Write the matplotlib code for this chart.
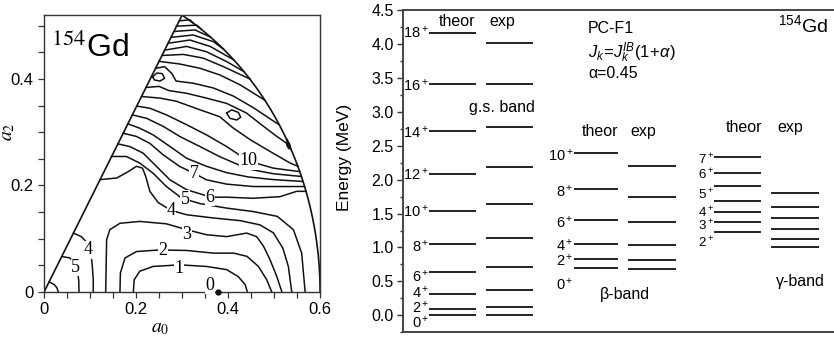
import numpy as np
import matplotlib.pyplot as plt
from matplotlib.ticker import MultipleLocator, FixedLocator

plt.rcParams['font.family'] = ['Liberation Sans', 'DejaVu Sans']
plt.rcParams['mathtext.fontset'] = 'custom'
plt.rcParams['mathtext.rm'] = 'Liberation Sans'
plt.rcParams['mathtext.it'] = 'Liberation Sans:italic'
plt.rcParams['mathtext.bf'] = 'Liberation Sans:bold'

# ---------------- left panel: PES contour lines, (a0, a2) points
c6_origin = [(0.011, 0.019), (0.022, 0.014), (0.028, 0.008), (0.031, 0.0)]
c5_origin = [(0.0385, 0.0667), (0.056, 0.064), (0.067, 0.054), (0.073, 0.039), (0.0755, 0.020), (0.076, 0.0)]
c4_origin = [(0.064, 0.1106), (0.081, 0.104), (0.094, 0.092), (0.102, 0.073), (0.105, 0.048), (0.107, 0.023), (0.107, 0.0)]
c1 = [(0.194, 0.0), (0.196, 0.023), (0.208, 0.039), (0.237, 0.048), (0.295, 0.051), (0.353, 0.048),
      (0.397, 0.042), (0.422, 0.029), (0.437, 0.014), (0.442, 0.0)]
c2 = [(0.165, 0.0), (0.166, 0.036), (0.176, 0.064), (0.201, 0.076), (0.252, 0.079), (0.310, 0.078),
      (0.368, 0.073), (0.412, 0.073), (0.441, 0.067), (0.466, 0.048), (0.484, 0.023), (0.495, 0.0)]
c3 = [(0.134, 0.0), (0.136, 0.098), (0.143, 0.117), (0.165, 0.129), (0.208, 0.1325), (0.266, 0.128),
      (0.310, 0.117), (0.353, 0.1075), (0.397, 0.104), (0.4405, 0.1106), (0.462, 0.104), (0.477, 0.086),
      (0.491, 0.061), (0.506, 0.029), (0.517, 0.0)]
c4 = [(0.122, 0.211), (0.158, 0.214), (0.183, 0.226), (0.201, 0.236), (0.214, 0.2325), (0.221, 0.217),
      (0.230, 0.189), (0.248, 0.168), (0.277, 0.153), (0.310, 0.145), (0.368, 0.139), (0.426, 0.134),
      (0.4695, 0.126), (0.4985, 0.111), (0.519, 0.0825), (0.531, 0.048), (0.5385, 0.0)]
c5 = [(0.1469, 0.2544), (0.179, 0.2544), (0.208, 0.242), (0.237, 0.223), (0.266, 0.198), (0.295, 0.179),
      (0.307, 0.174), (0.339, 0.166), (0.397, 0.1575), (0.455, 0.151), (0.507, 0.142), (0.542, 0.117),
      (0.560, 0.073), (0.5675, 0.0)]
c6 = [(0.1606, 0.2781), (0.1865, 0.273), (0.2155, 0.2606), (0.2446, 0.2356), (0.2736, 0.2106), (0.310, 0.192),
      (0.346, 0.1825), (0.361, 0.178), (0.397, 0.178), (0.455, 0.176), (0.513, 0.179), (0.549, 0.189), (0.5695, 0.189)]
c7 = [(0.172, 0.2981), (0.201, 0.292), (0.230, 0.279), (0.259, 0.2575), (0.295, 0.2356), (0.326, 0.223),
      (0.353, 0.2106), (0.397, 0.2025), (0.455, 0.198), (0.513, 0.198), (0.566, 0.198)]
c8 = [(0.1822, 0.3156), (0.208, 0.3075), (0.237, 0.295), (0.274, 0.273), (0.310, 0.251), (0.353, 0.236),
      (0.397, 0.224), (0.444, 0.216), (0.4985, 0.211), (0.5629, 0.2075)]
c9 = [(0.192, 0.3325), (0.223, 0.326), (0.259, 0.311), (0.295, 0.292), (0.339, 0.273), (0.382, 0.254),
      (0.444, 0.231), (0.4985, 0.222), (0.5594, 0.2169)]
c10 = [(0.2017, 0.349), (0.230, 0.345), (0.266, 0.3325), (0.310, 0.314), (0.353, 0.295), (0.397, 0.273),
       (0.444, 0.246), (0.4985, 0.2325), (0.5557, 0.226)]
c11 = [(0.212, 0.367), (0.252, 0.364), (0.288, 0.358), (0.339, 0.342), (0.382, 0.329), (0.411, 0.308),
       (0.448, 0.286), (0.491, 0.264), (0.535, 0.242), (0.552, 0.236)]
c12 = [(0.222, 0.384), (0.250, 0.386), (0.272, 0.378), (0.310, 0.373), (0.353, 0.364), (0.397, 0.354),
       (0.440, 0.336), (0.477, 0.311), (0.506, 0.292), (0.526, 0.280), (0.537, 0.267)]
c13 = [(0.2425, 0.420), (0.262, 0.423), (0.278, 0.410), (0.287, 0.396), (0.324, 0.392), (0.368, 0.383),
       (0.411, 0.368), (0.455, 0.346), (0.495, 0.323), (0.511, 0.314)]
c14 = [(0.250, 0.433), (0.295, 0.428), (0.339, 0.420), (0.382, 0.4075), (0.426, 0.389), (0.480, 0.360)]
c15 = [(0.256, 0.444), (0.303, 0.446), (0.346, 0.439), (0.390, 0.423), (0.447, 0.400)]
c16 = [(0.262, 0.454), (0.310, 0.461), (0.353, 0.451), (0.397, 0.4325), (0.434, 0.414)]
c17 = [(0.270, 0.467), (0.317, 0.473), (0.361, 0.461), (0.412, 0.436)]
c18 = [(0.276, 0.478), (0.324, 0.4825), (0.368, 0.470), (0.390, 0.456)]
c19 = [(0.282, 0.489), (0.328, 0.492), (0.363, 0.478)]
c20 = [(0.288, 0.499), (0.332, 0.501), (0.341, 0.494)]
c21 = [(0.294, 0.509), (0.317, 0.511), (0.324, 0.505)]
loop_a = [(0.236, 0.404), (0.245, 0.411), (0.257, 0.410), (0.262, 0.401), (0.252, 0.396), (0.240, 0.398), (0.236, 0.404)]
loop_b = [(0.397, 0.336), (0.408, 0.342), (0.4225, 0.337), (0.4275, 0.328), (0.419, 0.323), (0.404, 0.326), (0.397, 0.336)]
loop_c = [(0.528, 0.286), (0.533, 0.279), (0.536, 0.272), (0.532, 0.269), (0.528, 0.275), (0.528, 0.286)]

contour_lines = [c6_origin, c5_origin, c4_origin, c1, c2, c3, c4, c5, c6, c7, c8, c9, c10,
                 c11, c12, c13, c14, c15, c16, c17, c18, c19, c20, c21, loop_a, loop_b, loop_c]

# contour labels: text, a0, a2
contour_labels = [('0', 0.361, 0.0125), ('1', 0.293, 0.045), ('2', 0.259, 0.078), ('3', 0.310, 0.1075),
                  ('4', 0.277, 0.153), ('5', 0.307, 0.174), ('6', 0.361, 0.178), ('7', 0.326, 0.223),
                  ('10', 0.444, 0.246), ('4', 0.096, 0.079), ('5', 0.069, 0.046)]
min_point = (0.379, 0.0)

# ---------------- right panel: level energies (MeV)
gs_spins = [0, 2, 4, 6, 8, 10, 12, 14, 16, 18]
gs_theor = [0.0, 0.096, 0.317, 0.645, 1.05, 1.54, 2.09, 2.72, 3.41, 4.16]
gs_exp = [0.0, 0.123, 0.371, 0.718, 1.144, 1.637, 2.184, 2.777, 3.404, 4.02]
gs_label_y = [-0.11, 0.11, 0.33, 0.57, 1.02, 1.53, 2.08, 2.70, 3.39, 4.16]

beta_spins = [0, 2, 4, 6, 8, 10]
beta_theor = [0.70, 0.83, 1.05, 1.41, 1.86, 2.40]
beta_exp = [0.68, 0.82, 1.04, 1.37, 1.75, 2.20]
beta_label_y = [0.46, 0.80, 1.03, 1.37, 1.82, 2.36]

gamma_spins = [2, 3, 4, 5, 6, 7]
gamma_theor = [1.23, 1.38, 1.53, 1.69, 1.90, 2.10, 2.34]
gamma_exp = [1.00, 1.13, 1.27, 1.43, 1.60, 1.81]
gamma_label_y = [1.07, 1.32, 1.51, 1.77, 2.07, 2.29]

fig = plt.figure(figsize=(8.34, 3.37), dpi=100)

# ---------------- left panel
ax1 = fig.add_axes([0.0528, 0.1335, 0.331, 0.822])
ink = '#111111'
for pts in contour_lines:
    p = np.array(pts)
    ax1.plot(p[:, 0], p[:, 1], color=ink, lw=1.1, solid_joinstyle='round')
# sector boundary (gamma = 0..60 deg, beta = 0.6)
th = np.linspace(0, np.pi / 3, 200)
ax1.plot(0.6 * np.cos(th), 0.6 * np.sin(th), color=ink, lw=1.2)
ax1.plot([0, 0.3], [0, 0.3 * np.tan(np.pi / 3)], color=ink, lw=1.2)
ax1.plot(*min_point, 'o', color=ink, ms=3.5, clip_on=False, zorder=5)
for t, x, y in contour_labels:
    ax1.text(x, y, t, fontsize=13, family='Liberation Serif', ha='center', va='center',
             bbox=dict(facecolor='white', edgecolor='none', pad=0.2), zorder=4)
ax1.text(0.016, 0.458, r'$^{154}$Gd', fontsize=23, ha='left', va='center', math_fontfamily='stix')
ax1.set_xlim(0, 0.6)
ax1.set_ylim(0, 0.52)
ax1.xaxis.set_major_locator(FixedLocator([0, 0.2, 0.4, 0.6]))
ax1.yaxis.set_major_locator(FixedLocator([0, 0.2, 0.4]))
ax1.xaxis.set_minor_locator(MultipleLocator(0.05))
ax1.yaxis.set_minor_locator(MultipleLocator(0.05))
ax1.set_xticklabels(['0', '0.2', '0.4', '0.6'])
ax1.set_yticklabels(['0', '0.2', '0.4'])
ax1.tick_params(which='both', direction='out', length=4.5, width=0.9, labelsize=12, pad=3, color='#333333')
ax1.set_xlabel(r'$a_0$', fontsize=14, math_fontfamily='stix')
ax1.set_ylabel(r'$a_2$', fontsize=14, math_fontfamily='stix')
ax1.xaxis.set_label_coords(0.42, -0.10)
ax1.yaxis.set_label_coords(-0.097, 0.578)
for s in ax1.spines.values():
    s.set_linewidth(1.0)
    s.set_color('#333333')

# ---------------- right panel
ax2 = fig.add_axes([0.4829, 0.0139, 0.5172, 0.9564])
ax2.set_xlim(0, 1)
ax2.set_ylim(-0.25, 4.5)
lc = '#222222'
cols = {'gs_t': (0.062, 0.170), 'gs_e': (0.193, 0.301),
        'b_t': (0.396, 0.500), 'b_e': (0.523, 0.633),
        'g_t': (0.722, 0.830), 'g_e': (0.853, 0.964)}
ax2.hlines(gs_theor, *cols['gs_t'], color=lc, lw=1.4)
ax2.hlines(gs_exp, *cols['gs_e'], color=lc, lw=1.4)
ax2.hlines(beta_theor, *cols['b_t'], color=lc, lw=1.4)
ax2.hlines(beta_exp, *cols['b_e'], color=lc, lw=1.4)
ax2.hlines(gamma_theor, *cols['g_t'], color=lc, lw=1.4)
ax2.hlines(gamma_exp, *cols['g_e'], color=lc, lw=1.4)

for s, y in zip(gs_spins, gs_label_y):
    ax2.text(cols['gs_t'][0] - 0.001, y, f'{s}$^+$', fontsize=10.5, ha='right', va='center')
for s, y in zip(beta_spins, beta_label_y):
    ax2.text(cols['b_t'][0] - 0.001, y, f'{s}$^+$', fontsize=10.5, ha='right', va='center')
for s, y in zip(gamma_spins, gamma_label_y):
    ax2.text(cols['g_t'][0] - 0.001, y, f'{s}$^+$', fontsize=9.5, ha='right', va='center')

hfs = 11.5
ax2.text(0.125, 4.33, 'theor', fontsize=hfs, ha='center', va='center')
ax2.text(0.230, 4.33, 'exp', fontsize=hfs, ha='center', va='center')
ax2.text(0.230, 3.06, 'g.s. band', fontsize=hfs, ha='center', va='center')
ax2.text(0.457, 2.71, 'theor', fontsize=hfs, ha='center', va='center')
ax2.text(0.558, 2.71, 'exp', fontsize=hfs, ha='center', va='center')
ax2.text(0.515, 0.30, 'β-band', fontsize=hfs, ha='center', va='center')
ax2.text(0.791, 2.77, 'theor', fontsize=hfs, ha='center', va='center')
ax2.text(0.898, 2.77, 'exp', fontsize=hfs, ha='center', va='center')
ax2.text(0.923, 0.50, 'γ-band', fontsize=hfs, ha='center', va='center')
ax2.text(0.430, 4.23, 'PC-F1', fontsize=hfs, ha='left', va='center')
ax2.text(0.430, 3.87, r'$\mathit{J_k\!=\!J_k^{IB}(1\!+\!\alpha)}$', fontsize=12, ha='left', va='center')
ax2.text(0.430, 3.56, 'α=0.45', fontsize=hfs, ha='left', va='center')
ax2.text(0.986, 4.28, r'$^{154}$Gd', fontsize=14, ha='right', va='center')

ax2.set_xticks([])
ax2.yaxis.set_minor_locator(MultipleLocator(0.25))
ax2.set_yticks(np.arange(0, 4.51, 0.5))
ax2.set_yticklabels([f'{v:.1f}' for v in np.arange(0, 4.51, 0.5)])
ax2.tick_params(axis='y', which='major', direction='out', length=4.5, width=1.0, labelsize=11.5, pad=2, color='#333333')
ax2.tick_params(axis='y', which='minor', direction='out', length=2.5, width=1.0, color='#333333')
ax2.set_ylabel('Energy (MeV)', fontsize=12.5)
ax2.yaxis.set_label_coords(-0.118, 0.544)
ax2.spines['right'].set_visible(False)
for k in ['left', 'top', 'bottom']:
    ax2.spines[k].set_linewidth(1.4)
    ax2.spines[k].set_color('#444444')

fig.savefig('out.png', dpi=100)
